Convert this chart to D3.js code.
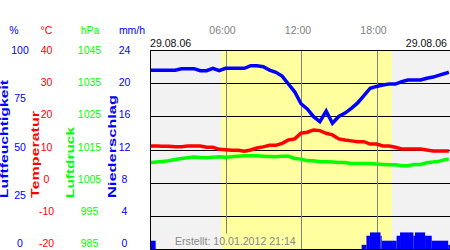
<!DOCTYPE html>
<html>
<head>
<meta charset="utf-8">
<script src="https://cdn.jsdelivr.net/npm/d3@7"></script>
<style>
  html, body { margin: 0; padding: 0; background: #fff; }
</style>
</head>
<body>
<div id="chart"></div>
<script>
// readings every 30 minutes, 29.08.06
const hours = [0, 0.5, 1, 1.5, 2, 2.5, 3, 3.5, 4, 4.5, 5, 5.5, 6, 6.5, 7, 7.5, 8, 8.5, 9, 9.5,
  10, 10.5, 11, 11.5, 12, 12.5, 13, 13.5, 14, 14.5, 15, 15.5, 16, 16.5, 17, 17.5, 18, 18.5, 19, 19.5,
  20, 20.5, 21, 21.5, 22, 22.5, 23, 23.5, 23.75];
const humidity = [89.8, 89.8, 89.8, 89.8, 89.8, 90.6, 90.6, 90.6, 89.6, 89.6, 90.8, 89.6, 90.8, 90.8, 90.8, 90.8, 92.1, 92.1, 91.6, 89.9,
  88.8, 86.9, 82.9, 79, 73, 70.4, 66.5, 64, 69.3, 63.2, 66.6, 68.3, 70.7, 73.4, 77.1, 80.8, 81.7, 82.4, 82.9, 82.9,
  84.1, 84.9, 84.9, 84.9, 85.8, 86.4, 87.4, 88.3, 88.9];
const temperature = [11.05, 11.05, 11.0, 11.0, 10.85, 10.85, 11.05, 11.05, 11.05, 10.66, 10.66, 10.06, 9.9, 9.75, 9.75, 9.45, 9.85, 10.45, 10.8, 11.26,
  11.26, 11.87, 12.86, 13.2, 14.9, 15.2, 15.9, 15.7, 14.9, 14.4, 13.2, 12.86, 12.6, 12.35, 12.35, 11.65, 11.65, 11.05, 11.05, 10.66,
  10.15, 10.15, 10.15, 10.15, 9.85, 9.54, 9.54, 9.54, 9.54];
const pressure = [1011.0, 1011.2, 1011.4, 1011.6, 1012.0, 1012.3, 1012.5, 1012.7, 1012.6, 1012.5, 1012.7, 1012.8, 1012.7, 1012.8, 1013.0, 1013.1, 1013.1, 1013.1, 1013.0, 1012.9,
  1012.8, 1013.0, 1013.0, 1012.3, 1012.1, 1011.6, 1011.6, 1011.3, 1011.3, 1011.2, 1011.1, 1011.1, 1010.8, 1010.8, 1010.8, 1010.8, 1010.6, 1010.5, 1010.4, 1010.4,
  1010.1, 1010.1, 1010.5, 1010.5, 1011.0, 1011.2, 1011.5, 1012.0, 1012.1];

// precipitation intervals (hours) and rate in mm/h
const precipStart = [0, 16.82, 17.2, 17.48, 18.32, 18.41, 19.6, 19.87, 20.93, 21.06, 21.86, 22.39, 23.7];
const precipEnd = [0.45, 17.2, 17.48, 18.32, 18.41, 19.6, 19.87, 20.93, 21.06, 21.86, 22.39, 23.7, 24];
const precipRate = [1.0, 0.5, 1.6, 2.0, 1.6, 1.0, 1.6, 2.0, 1.6, 2.0, 1.6, 1.0, 0.5];

// daylight
const sunrise = 5.65;
const sunset = 19.23;

const timeTicks = [6, 12, 18];
const timeLabels = ['06:00', '12:00', '18:00'];
const humTicks = [100, 75, 50, 25, 0];
const tempTicks = [40, 30, 20, 10, 0, -10, -20];
const pressTicks = [1045, 1035, 1025, 1015, 1005, 995, 985];
const precipTicks = [24, 20, 16, 12, 8, 4, 0];
const dateLabel = '29.08.06';
const createdLabel = 'Erstellt: 10.01.2012 21:14';

const width = 450;
const height = 250;
const pLeft = 150, pRight = 452, pTop = 50, pBottom = 249;
const font = 'Liberation Sans, Arial, sans-serif';

const blue = '#0000ff', red = '#ff0000', green = '#00ff00';

const x = d3.scaleLinear().domain([0, 24]).range([pLeft, pRight]);
const yHum = d3.scaleLinear().domain([0, 100]).range([pBottom, pTop]);
const yTemp = d3.scaleLinear().domain([-20, 40]).range([pBottom, pTop]);
const yPress = d3.scaleLinear().domain([985, 1045]).range([pBottom, pTop]);
const yPrecip = d3.scaleLinear().domain([0, 24]).range([pBottom, pTop]);
// tick labels sit slightly compressed toward the top
const labelY = d3.scaleLinear().domain([0, 1]).range([pBottom - 5.5, pTop + 0.3]);

const svg = d3.select('#chart').append('svg')
  .attr('width', width)
  .attr('height', height)
  .attr('font-family', font);

svg.append('clipPath').attr('id', 'plot')
  .append('rect').attr('x', pLeft).attr('y', pTop).attr('width', width - pLeft).attr('height', pBottom - pTop);

const plot = svg.append('g').attr('clip-path', 'url(#plot)');

// night / day background
plot.append('rect')
  .attr('x', pLeft).attr('y', pTop)
  .attr('width', width - pLeft).attr('height', pBottom - pTop)
  .attr('fill', '#f2f2f2');
plot.append('rect')
  .attr('x', x(sunrise)).attr('y', pTop)
  .attr('width', x(sunset) - x(sunrise)).attr('height', pBottom - pTop)
  .attr('fill', '#ffffa0');

// horizontal grid
plot.append('g')
  .selectAll('line')
  .data(tempTicks)
  .join('line')
  .attr('x1', pLeft).attr('x2', width)
  .attr('y1', (d) => Math.round(yTemp(d)) + 0.5)
  .attr('y2', (d) => Math.round(yTemp(d)) + 0.5)
  .attr('stroke', '#000');

// created text (drawn first so the time lines can stop above it)
const created = svg.append('text')
  .attr('x', 175).attr('y', 244.5)
  .attr('font-size', 10.6)
  .attr('fill', '#888')
  .text(createdLabel);
const cb = created.node().getBBox();

plot.append('g')
  .selectAll('line')
  .data(timeTicks)
  .join('line')
  .attr('x1', (d) => Math.round(x(d)) + 0.5)
  .attr('x2', (d) => Math.round(x(d)) + 0.5)
  .attr('y1', pTop)
  .attr('y2', (d) => (x(d) > cb.x && x(d) < cb.x + cb.width ? cb.y - 1 : pBottom))
  .attr('stroke', '#808080');

// precipitation bars
plot.append('g')
  .selectAll('rect')
  .data(precipRate)
  .join('rect')
  .attr('x', (d, i) => x(precipStart[i]))
  .attr('width', (d, i) => x(precipEnd[i]) - x(precipStart[i]))
  .attr('y', (d) => yPrecip(d))
  .attr('height', (d) => pBottom - yPrecip(d))
  .attr('fill', blue);

const series = [
  { values: pressure, y: yPress, color: green },
  { values: temperature, y: yTemp, color: red },
  { values: humidity, y: yHum, color: blue },
];

series.forEach((s) => {
  const line = d3.line()
    .x((d, i) => x(hours[i]))
    .y((d) => s.y(d));
  plot.append('path')
    .datum(s.values)
    .attr('d', line)
    .attr('fill', 'none')
    .attr('stroke', s.color)
    .attr('stroke-width', 3.5);
});

// frame: top, left, bottom
svg.append('path')
  .attr('d', `M${width},${pTop + 0.5}H${pLeft + 0.5}V${pBottom + 0.5}H${width}`)
  .attr('fill', 'none')
  .attr('stroke', '#000');

// time labels
svg.append('g')
  .attr('font-size', 10.5)
  .attr('fill', '#808080')
  .attr('text-anchor', 'middle')
  .selectAll('text')
  .data(timeTicks)
  .join('text')
  .attr('x', (d) => x(d) - 3)
  .attr('y', 34)
  .text((d, i) => timeLabels[i]);

svg.append('text').attr('x', pLeft).attr('y', 46.5).attr('font-size', 10.6).attr('fill', '#111').text(dateLabel);
svg.append('text').attr('x', 447).attr('y', 46.5).attr('font-size', 10.6).attr('fill', '#111')
  .attr('text-anchor', 'end').text(dateLabel);

// units row
const units = [
  { t: '%', x: 14, c: blue },
  { t: '°C', x: 46.5, c: red },
  { t: 'hPa', x: 90, c: green },
  { t: 'mm/h', x: 132, c: blue },
];
svg.append('g')
  .attr('font-size', 10.5)
  .attr('text-anchor', 'middle')
  .selectAll('text')
  .data(units)
  .join('text')
  .attr('x', (d) => d.x)
  .attr('y', 34)
  .attr('fill', (d) => d.c)
  .text((d) => d.t);

// tick label columns
function column(ticks, scale, cx, color) {
  const [lo, hi] = scale.domain();
  svg.append('g')
    .attr('font-size', 10.5)
    .attr('text-anchor', 'middle')
    .attr('fill', color)
    .selectAll('text')
    .data(ticks)
    .join('text')
    .attr('x', cx)
    .attr('y', (d) => labelY((d - lo) / (hi - lo)))
    .attr('dy', '0.36em')
    .text((d) => d);
}
column(humTicks, yHum, 20, blue);
column(tempTicks, yTemp, 46.5, red);
column(pressTicks, yPress, 89.5, green);
column(precipTicks, yPrecip, 124.5, blue);

// rotated axis titles
const titles = [
  { t: 'Luftfeuchtigkeit', x: 7.5, len: 118, c: blue },
  { t: 'Temperatur', x: 38.5, len: 87, c: red },
  { t: 'Luftdruck', x: 74, len: 71, c: green },
  { t: 'Niederschlag', x: 116, len: 103, c: blue },
];
svg.append('g')
  .attr('font-size', 10)
  .attr('font-weight', 'bold')
  .selectAll('text')
  .data(titles)
  .join('text')
  .attr('transform', (d) => `translate(${d.x},198) rotate(-90)`)
  .attr('fill', (d) => d.c)
  .attr('textLength', (d) => d.len)
  .attr('lengthAdjust', 'spacingAndGlyphs')
  .text((d) => d.t);
</script>
</body>
</html>
